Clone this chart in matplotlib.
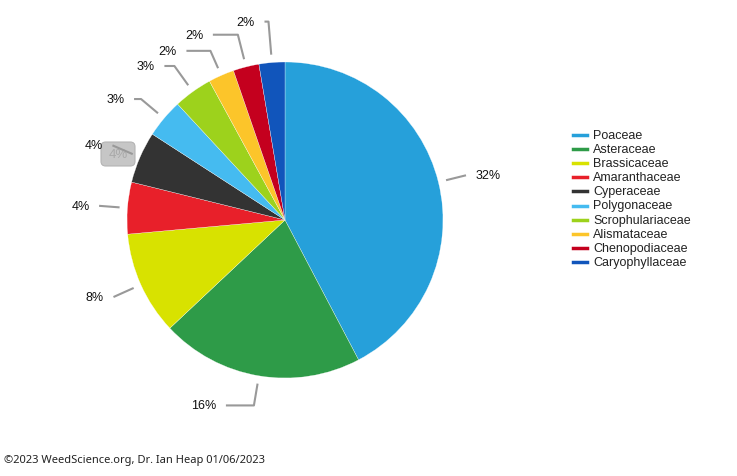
import matplotlib.pyplot as plt
import numpy as np
from matplotlib.lines import Line2D
from matplotlib.patches import FancyBboxPatch

# resistant species per plant family (top 10 families)
families = ['Poaceae', 'Asteraceae', 'Brassicaceae', 'Amaranthaceae', 'Cyperaceae',
            'Polygonaceae', 'Scrophulariaceae', 'Alismataceae', 'Chenopodiaceae',
            'Caryophyllaceae']
counts = [96, 47, 24, 12, 12, 9, 9, 6, 6, 6]
total_species = 300  # all families, labels are % of this

colors = ['#26a0da', '#2e9b48', '#d8e200', '#e8202a', '#333333',
          '#45bbf0', '#9dd21c', '#fcc52a', '#c4001e', '#1155bb']

# label connector layout (pie radius units)
leg_r = [1.18, 1.19, 1.19, 1.18, 1.19, 1.19, 1.20, 1.17, 1.21, 1.26]
leg_h = [0, 28, 0, 0, 0, 7, 10, 24, 25, 4]

fig = plt.figure(figsize=(7.37, 4.77), dpi=100)
R = 158.0
cxp, cyp = 285, 221
leg_h = [h / R for h in leg_h]
a = 1.4
W = 2 * a * R
ax = fig.add_axes([(cxp - W / 2) / 737, (477 - cyp - W / 2) / 477, W / 737, W / 477])

wedges, _ = ax.pie(counts, colors=colors, startangle=90, counterclock=False,
                   radius=1, wedgeprops=dict(edgecolor='white', linewidth=0.2))
ax.set_xlim(-a, a)
ax.set_ylim(-a, a)
ax.axis('off')

pcts = [round(c / total_species * 100) for c in counts]
for w, p, r2, h in zip(wedges, pcts, leg_r, leg_h):
    mid = np.deg2rad((w.theta1 + w.theta2) / 2)
    cx, cy = np.cos(mid), np.sin(mid)
    x1, y1 = 1.05 * cx, 1.05 * cy
    x2, y2 = r2 * cx, r2 * cy
    side = 1 if cx > 0 else -1
    x3 = x2 + side * h
    ax.plot([x1, x2, x3], [y1, y2, y2], color='#999999', lw=1.5,
            solid_capstyle='butt', clip_on=False, zorder=3)
    ax.text(x3 + side * 0.06, y2, f'{p}%', ha='left' if side > 0 else 'right',
            va='center', fontsize=9, color='#111111', family='Liberation Sans')

# faded tooltip left over in the screenshot
tx, ty = (118 - cxp) / R, (cyp - 155) / R
box = FancyBboxPatch((tx - 17 / R, ty - 12 / R), 34 / R, 24 / R,
                     boxstyle='round,pad=0,rounding_size=0.03',
                     facecolor='#c6c6c6', edgecolor='#b4b4b4', lw=0.8,
                     clip_on=False, zorder=2)
ax.add_patch(box)
ax.text(tx, ty, '4%', ha='center', va='center', fontsize=9.5, color='#a9a9a9',
        family='Liberation Sans', zorder=2)

# legend
for i, (name, c) in enumerate(zip(families, colors)):
    y = 1 - (136 + i * 14.1) / 477
    fig.add_artist(Line2D([573 / 737, 587 / 737], [y, y], color=c, lw=2.5,
                          transform=fig.transFigure))
    fig.text(593 / 737, y, name, ha='left', va='center', fontsize=9,
             color='#222222', family='Liberation Sans')

fig.text(4 / 737, 1 - 461 / 477, '©2023 WeedScience.org, Dr. Ian Heap 01/06/2023',
         ha='left', va='center', fontsize=8, color='#222222', family='Noto Sans')

fig.savefig('out.png', dpi=100)
